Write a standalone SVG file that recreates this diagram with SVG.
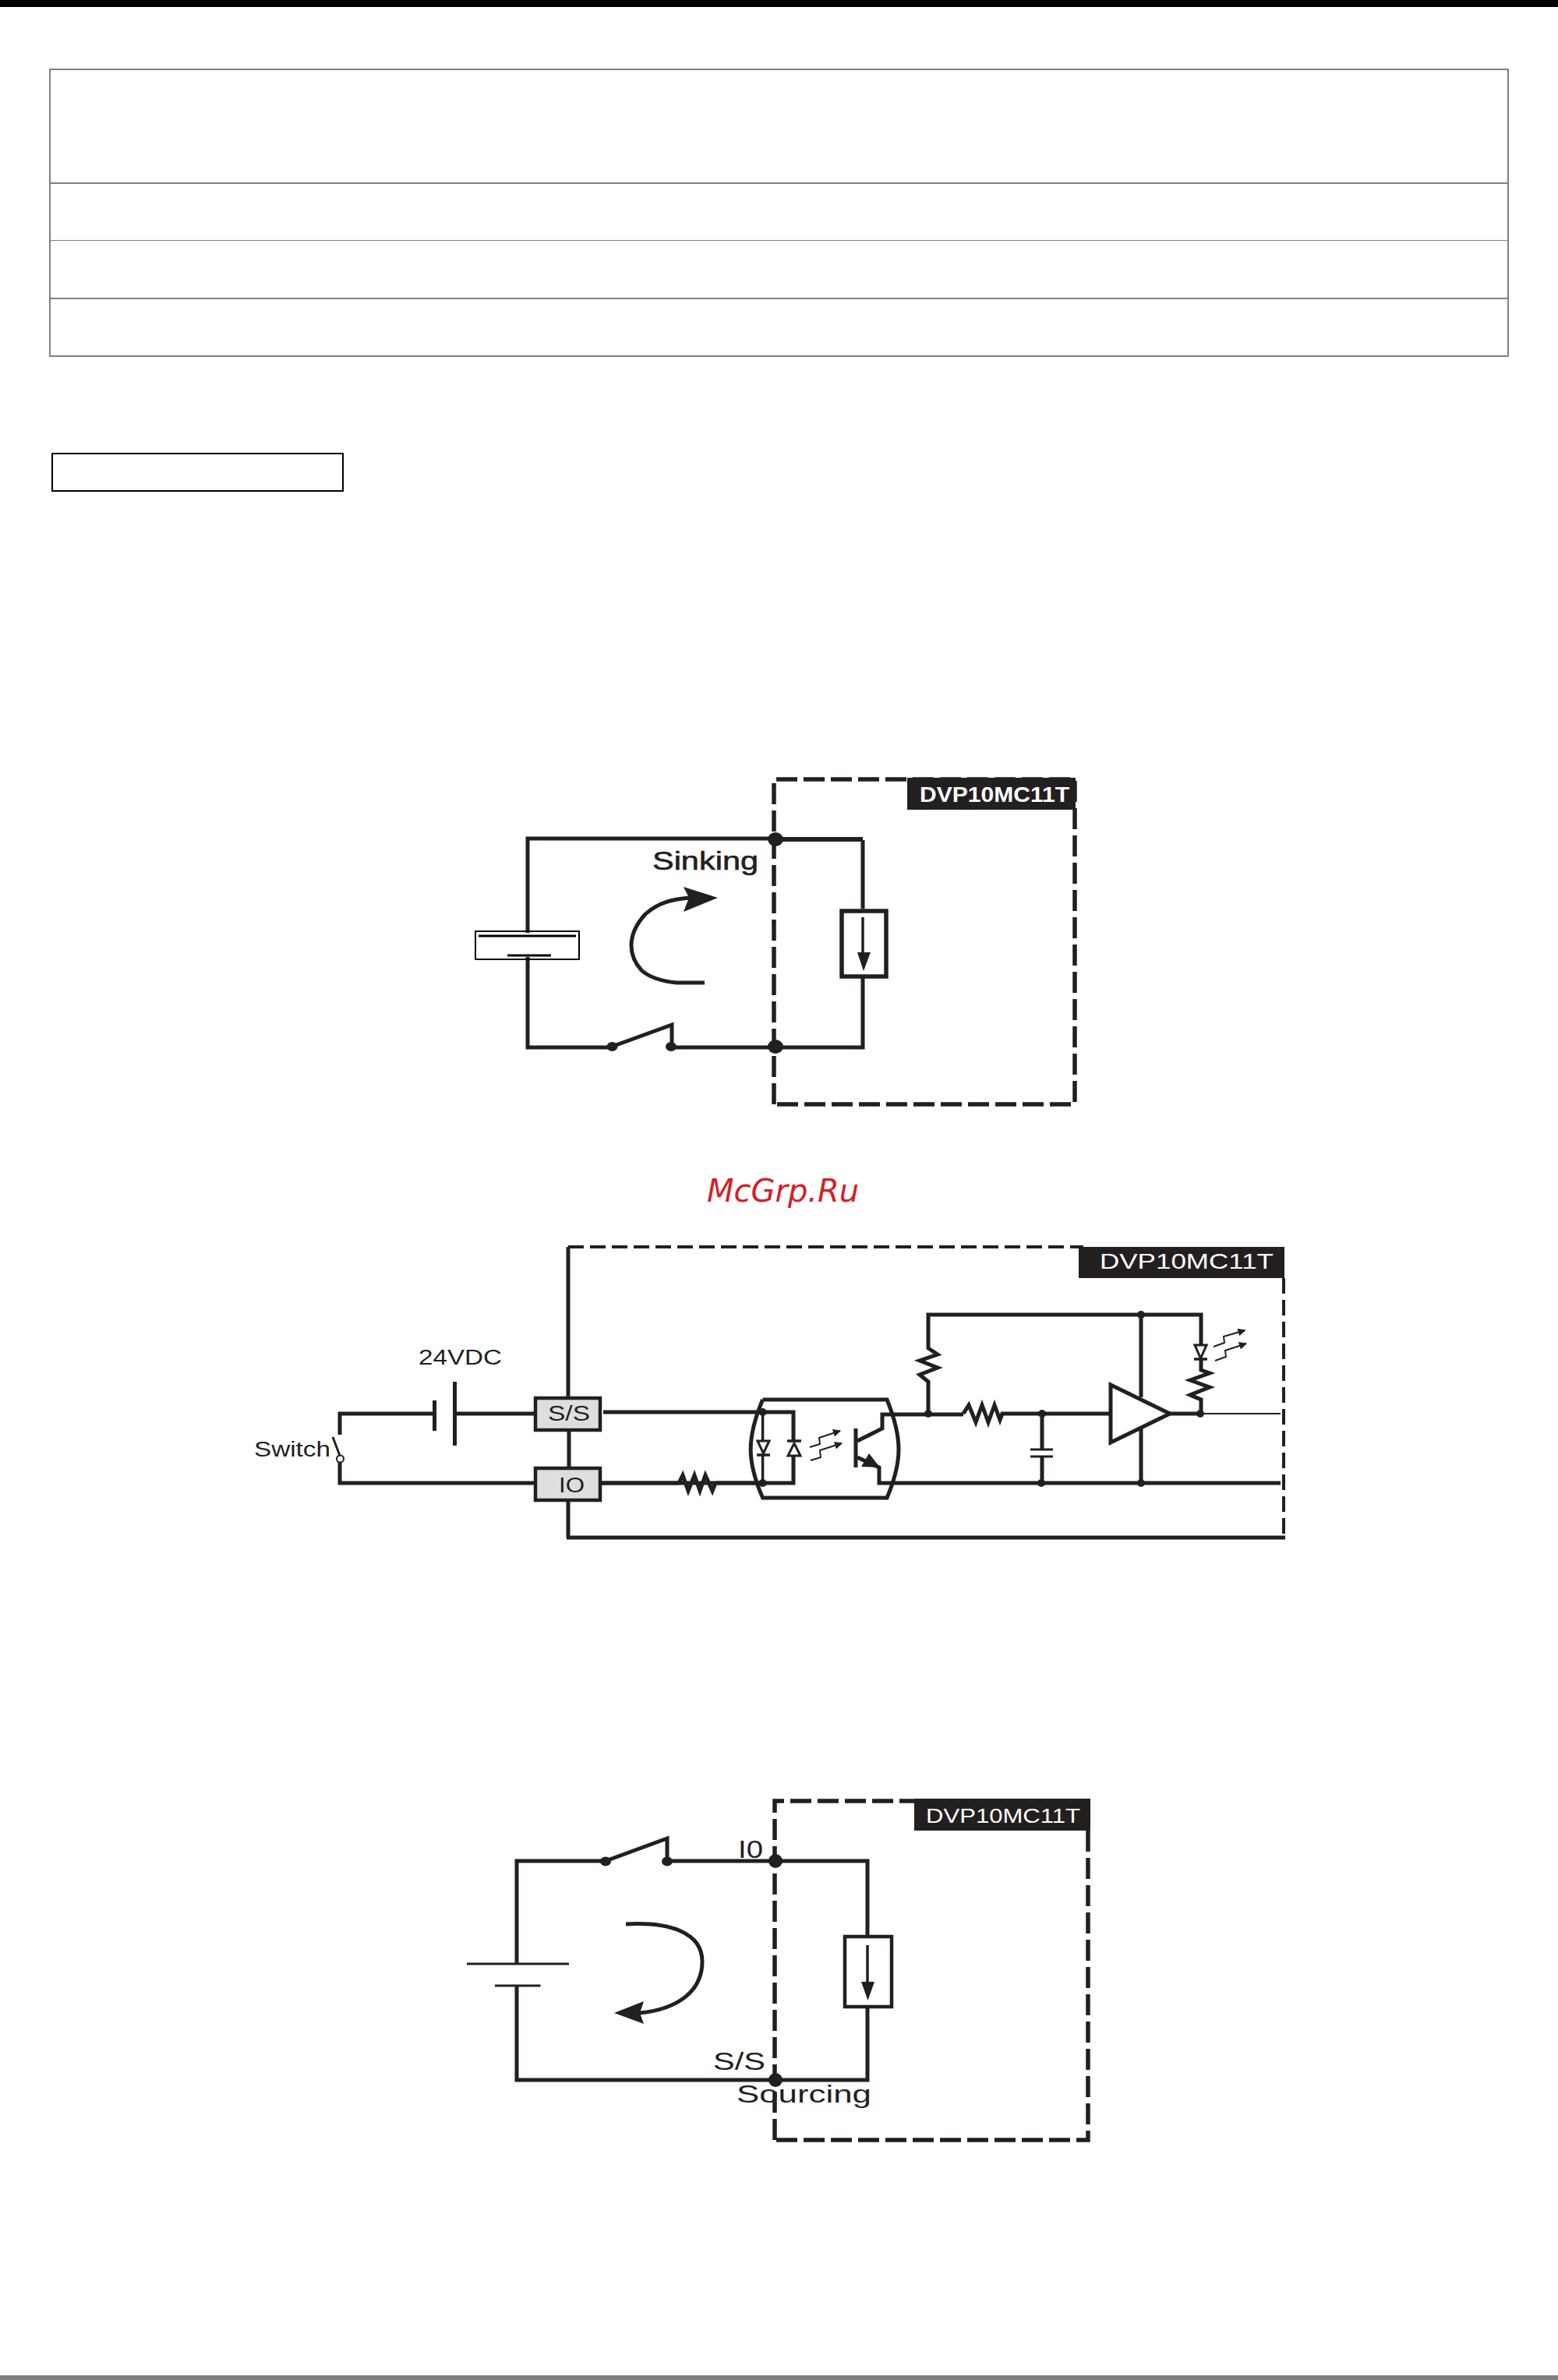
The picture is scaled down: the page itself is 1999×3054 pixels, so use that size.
<svg xmlns="http://www.w3.org/2000/svg" width="1999" height="3054" viewBox="0 0 1999 3054">
<style>
text{font-family:"Liberation Sans",Arial,sans-serif;fill:#231f20}
.w{fill:none;stroke:#231f20;stroke-width:5;stroke-linejoin:miter}
.t{fill:none;stroke:#231f20;stroke-width:3.5}
.f{fill:#231f20;stroke:none}
.o{fill:#fff;stroke:#231f20;stroke-width:3}
.d1{fill:none;stroke:#231f20;stroke-width:5.5;stroke-dasharray:27 8}
.d2{fill:none;stroke:#231f20;stroke-width:4;stroke-dasharray:20 8}
.term{fill:#dedede;stroke:#231f20;stroke-width:4.5}
.tb{fill:none;stroke:#808080;stroke-width:2}
</style>
<defs>
<marker id="ah" viewBox="0 0 10 10" refX="9" refY="5" markerWidth="12" markerHeight="10" markerUnits="userSpaceOnUse" orient="auto"><path d="M0 0L10 5L0 10Z" fill="#231f20"/></marker>
</defs>
<rect width="1999" height="3054" fill="#fff"/>
<rect id="top-bar" x="0" y="0" width="1999" height="9" fill="#000"/>
<rect id="bottom-bar" x="0" y="3048" width="1999" height="6" fill="#808080"/>
<g id="table">
<rect class="tb" x="64" y="89" width="1871" height="368"/>
<path class="tb" d="M64 235H1935"/>
<path fill="none" stroke="#808080" stroke-width="1" d="M64 308.500H1935"/>
<path class="tb" d="M64 383H1935"/>
</g>
<rect id="heading-box" x="67" y="582" width="373" height="48" fill="none" stroke="#000" stroke-width="2"/>

<g id="sinking-diagram">
<g id="connectors-sinking">
<path class="d1" d="M993 1417V1000H1379V1417H993"/>
<path class="w" d="M995 1076H677V1197M677 1228V1344H785M785 1343L862 1315V1343M861 1344H1107V1253M1107 1166V1078"/>
<path fill="none" stroke="#231f20" stroke-width="6" d="M995 1077H1107"/>
<path class="w" d="M904 1261H868C848 1259 833 1254 823 1245C813 1234 810 1224 810 1213C810 1197 818 1184 828 1173C845 1158 862 1154 885 1152"/>
<path class="f" d="M921 1152L877 1138L884 1152L877 1170Z"/>
<path class="t" d="M1107 1177V1224"/>
<path class="f" d="M1100 1222H1117L1108 1246Z"/>
</g>
<g id="battery-1"><rect x="610" y="1195" width="133" height="36" fill="none" stroke="#000" stroke-width="2"/><path fill="none" stroke="#000" stroke-width="3" d="M614 1201H739M651 1226H707"/></g>
<g id="switch-1"><ellipse class="f" cx="785.500" cy="1343" rx="7" ry="6"/><ellipse class="f" cx="861" cy="1343" rx="7" ry="6"/></g>
<g id="junctions-1"><ellipse class="f" cx="995" cy="1077" rx="10" ry="9"/><ellipse class="f" cx="995" cy="1343" rx="10" ry="9"/></g>
<rect id="load-1" x="1080" y="1169" width="57" height="84" fill="none" stroke="#231f20" stroke-width="5.500"/>
<g id="label-1"><rect x="1164" y="998" width="216" height="41" fill="#231f20"/><text x="1180" y="1029" font-size="27" font-weight="bold" textLength="192" lengthAdjust="spacingAndGlyphs" style="fill:#fff">DVP10MC11T</text></g>
<text id="sinking" x="837" y="1116" font-size="33" textLength="136" lengthAdjust="spacingAndGlyphs" stroke="#231f20" stroke-width="0.600">Sinking</text>
</g>

<text id="watermark" x="907" y="1542" font-size="40" font-style="italic" style="font-family:'DejaVu Sans',sans-serif;fill:#d42027">McGrp.Ru</text>

<g id="circuit-diagram">
<g id="connectors-circuit">
<path class="w" d="M729 1792V1600"/>
<path class="d2" d="M729 1600H1390"/>
<path class="d2" d="M1647 1640V1973"/>
<path class="w" d="M727 1973H1649M729 1926V1973"/>
<path class="w" d="M730 1836V1882"/>
<path class="w" d="M557 1814H436V1841M586 1814H685M436 1876V1903H685"/>
<path fill="none" stroke="#231f20" stroke-width="3" d="M427 1844L436 1868"/>
<path class="w" d="M557.500 1797V1836M583.500 1773V1855"/>
<path class="w" d="M774 1812H1018V1849M1018 1868V1903H772"/>
<path class="w" d="M772 1903H871M918 1903H980"/>
<path class="w" d="M871 1903L876 1893L883 1913L891 1893L898 1913L905 1893L914 1913L918 1903"/>
<path class="t" d="M978.600 1812V1849M978.600 1867V1903"/>
<path class="w" d="M978.600 1796H1138C1158 1845 1158 1875 1138 1922H978.600C958 1875 958 1845 978.600 1796"/>
<path class="w" d="M1098 1833V1883"/>
<path class="w" d="M1100 1849L1132 1833V1815H1236"/>
<path class="w" d="M1100 1870L1128 1883V1903H1643"/>
<path class="f" d="M1115 1865L1129 1883L1105 1882Z"/>
<path class="w" d="M1236 1814L1243 1803L1252 1825L1260 1803L1268 1825L1276 1803L1283 1822L1286 1814H1425"/>
<path class="w" d="M1191 1814V1773L1180 1764L1203 1755L1180 1746L1203 1738L1191 1730V1687H1541V1726M1541 1744V1758L1552 1762L1527 1771L1552 1780L1527 1790L1541 1796V1814"/>
<path class="w" d="M1464 1687V1793M1464 1833V1903"/>
<path class="w" d="M1337 1814V1860M1337 1869V1903"/>
<path fill="none" stroke="#231f20" stroke-width="3" d="M1322 1860H1351M1322 1869H1351"/>
<path class="w" d="M1501 1814H1540"/>
<path fill="none" stroke="#231f20" stroke-width="2" d="M1540 1814H1643"/>
<g fill="none" stroke="#231f20" stroke-width="2">
<path d="M1039 1857L1052 1853L1051 1845L1078 1836" marker-end="url(#ah)"/>
<path d="M1040 1874L1053 1870L1052 1861L1080 1852" marker-end="url(#ah)"/>
<path d="M1557 1728L1571 1723L1570 1715L1597.500 1707" marker-end="url(#ah)"/>
<path d="M1559 1746L1573 1741L1572 1733L1599 1724" marker-end="url(#ah)"/>
</g>
</g>
<g id="led-1"><path class="o" d="M972 1849H987L979.500 1865Z"/><path class="t" d="M971 1867H988"/></g>
<g id="led-2"><path class="o" d="M1011 1868H1027L1019 1852Z"/><path class="t" d="M1010 1849H1028"/></g>
<g id="led-3"><path class="o" d="M1533 1726H1548L1540.500 1743Z"/><path class="t" d="M1532 1744H1549"/></g>
<path id="amplifier" d="M1425 1777L1501 1814L1425 1851Z" fill="#fff" stroke="#231f20" stroke-width="5"/>
<g id="junctions-2" class="f">
<circle cx="978.600" cy="1812" r="5"/><circle cx="978.600" cy="1903" r="5"/><circle cx="1191" cy="1814" r="5"/><circle cx="1337" cy="1814" r="5"/><circle cx="1336" cy="1903" r="5"/><circle cx="1464" cy="1687" r="5"/><circle cx="1464" cy="1903" r="5"/><circle cx="1540" cy="1814" r="5"/>
</g>
<circle id="switch-contact" cx="436.500" cy="1872" r="4.500" fill="#fff" stroke="#231f20" stroke-width="2"/>
<g id="terminal-ss"><rect class="term" x="687" y="1794" width="83" height="41"/><text x="703" y="1823" font-size="27" textLength="54" lengthAdjust="spacingAndGlyphs">S/S</text></g>
<g id="terminal-io"><rect class="term" x="687" y="1884" width="83" height="41"/><text x="717" y="1915" font-size="27" textLength="33" lengthAdjust="spacingAndGlyphs">IO</text></g>
<g id="label-2"><rect x="1384" y="1600" width="264" height="40" fill="#231f20"/><text x="1411" y="1628" font-size="28" textLength="223" lengthAdjust="spacingAndGlyphs" style="fill:#fff">DVP10MC11T</text></g>
<text id="v24" x="537" y="1751" font-size="27" textLength="107" lengthAdjust="spacingAndGlyphs">24VDC</text>
<text id="switch-text" x="326" y="1869" font-size="27" textLength="98" lengthAdjust="spacingAndGlyphs">Switch</text>
</g>

<g id="sourcing-diagram">
<g id="connectors-sourcing">
<path class="d1" d="M994 2746V2311H1396V2746H994"/>
<path class="w" d="M777 2388H663V2520M663 2548V2669H1113V2576M1113 2484V2388H856V2359L777 2388"/>
<path class="w" d="M803 2469C860 2466 901 2480 901 2517C901 2555 870 2578 821 2583"/>
<path class="f" d="M788 2583L826 2568L821 2583L826 2597Z"/>
<path class="t" d="M1113 2496V2548"/>
<path class="f" d="M1105 2543H1122L1113.500 2567Z"/>
</g>
<path id="battery-3" fill="none" stroke="#231f20" stroke-width="3" d="M599 2520H730M635 2548H693.500"/>
<g id="switch-3"><ellipse class="f" cx="777" cy="2388.500" rx="7" ry="6"/><ellipse class="f" cx="856" cy="2388.500" rx="7" ry="6"/></g>
<g id="junctions-3"><ellipse class="f" cx="995" cy="2388" rx="9" ry="9"/><ellipse class="f" cx="995" cy="2669" rx="9" ry="9"/></g>
<rect id="load-3" x="1084" y="2485" width="60" height="90" fill="none" stroke="#231f20" stroke-width="4.500"/>
<g id="label-3"><rect x="1173" y="2308" width="226" height="41" fill="#231f20"/><text x="1188" y="2339" font-size="26" textLength="198" lengthAdjust="spacingAndGlyphs" style="fill:#fff">DVP10MC11T</text></g>
<text id="io-text" x="947" y="2384" font-size="32" textLength="32" lengthAdjust="spacingAndGlyphs">I0</text>
<text id="ss-text" x="915" y="2656" font-size="32" textLength="67" lengthAdjust="spacingAndGlyphs">S/S</text>
<text id="sourcing" x="945" y="2698" font-size="32" textLength="173" lengthAdjust="spacingAndGlyphs">Sourcing</text>
</g>
</svg>
